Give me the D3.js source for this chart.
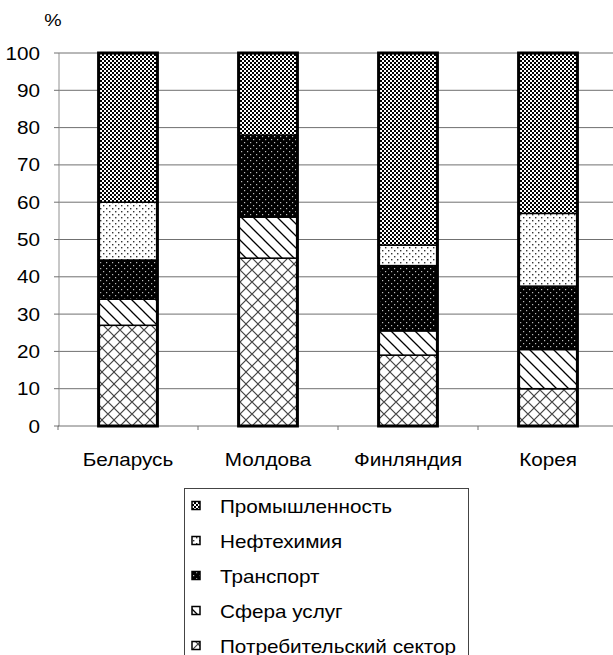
<!DOCTYPE html>
<html>
<head>
<meta charset="utf-8">
<script src="https://d3js.org/d3.v7.min.js"></script>
<style>
  body { margin: 0; background: #fff; }
  svg text { font-family: "Liberation Sans", Arial, sans-serif; fill: #000; }
</style>
</head>
<body>
<script>
// categories and series (percent shares, bottom to top)
var countries = ["Беларусь", "Молдова", "Финляндия", "Корея"];
var sectors = ["Потребительский сектор", "Сфера услуг", "Транспорт", "Нефтехимия", "Промышленность"];
var consumer = [27, 45, 19, 10];
var services = [7, 11, 6.5, 10.5];
var transport = [10.5, 22, 17.5, 17];
var petrochem = [15.5, 0, 5.5, 19.5];
var industry = [40, 22, 51.5, 43];
var yTicks = [0, 10, 20, 30, 40, 50, 60, 70, 80, 90, 100];

var seriesVals = [consumer, services, transport, petrochem, industry];
var patIds = ["pConsumer", "pServices", "pTransport", "pPetro", "pIndustry"];

var W = 613, H = 655, sx = 1.15;
var svg = d3.select("body").append("svg").attr("width", W).attr("height", H);

// fill patterns
var defs = svg.append("defs");
function pat(id, w, h) {
  return defs.append("pattern").attr("id", id).attr("patternUnits", "userSpaceOnUse")
    .attr("width", w).attr("height", h);
}
var p = pat("pIndustry", 4, 4);
p.append("rect").attr("width", 4).attr("height", 4).attr("fill", "#fff");
p.append("rect").attr("width", 2).attr("height", 2).attr("fill", "#000");
p.append("rect").attr("x", 2).attr("y", 2).attr("width", 2).attr("height", 2).attr("fill", "#000");

p = pat("pPetro", 6, 6);
p.append("rect").attr("width", 6).attr("height", 6).attr("fill", "#fff");
p.append("rect").attr("x", 1).attr("y", 1).attr("width", 1.4).attr("height", 1.4).attr("fill", "#333");
p.append("rect").attr("x", 4).attr("y", 4).attr("width", 1.4).attr("height", 1.4).attr("fill", "#333");

p = pat("pTransport", 6, 6);
p.append("rect").attr("width", 6).attr("height", 6).attr("fill", "#000");
p.append("rect").attr("x", 1).attr("y", 1).attr("width", 1.2).attr("height", 1.2).attr("fill", "#bbb");
p.append("rect").attr("x", 4).attr("y", 4).attr("width", 1.2).attr("height", 1.2).attr("fill", "#bbb");

p = pat("pServices", 12, 12);
p.append("rect").attr("width", 12).attr("height", 12).attr("fill", "#fff");
p.append("path").attr("d", "M-3,-3L15,15M-3,9L3,15M9,-3L15,3").attr("stroke", "#000").attr("stroke-width", 1.3);

p = pat("pConsumer", 12, 12);
p.append("rect").attr("width", 12).attr("height", 12).attr("fill", "#fff");
p.append("path").attr("d", "M0,6L6,0L12,6L6,12Z").attr("fill", "none").attr("stroke", "#444").attr("stroke-width", 1.1);

// scales
var x = d3.scaleBand().domain(countries).range([58, 618]).paddingInner(0.58).paddingOuter(0.29);
var y = d3.scaleLinear().domain([0, 100]).range([426, 53]);

// gridlines
svg.append("g").selectAll("line").data(yTicks.slice(1)).join("line")
  .attr("x1", 59).attr("x2", W).attr("y1", d => y(d)).attr("y2", d => y(d))
  .attr("stroke", "#707070").attr("stroke-width", 1);

// y axis
svg.append("line").attr("x1", 59).attr("x2", 59).attr("y1", y(100)).attr("y2", y(0))
  .attr("stroke", "#909090");
svg.append("g").selectAll("line").data(yTicks).join("line")
  .attr("x1", 54).attr("x2", 59).attr("y1", d => y(d)).attr("y2", d => y(d))
  .attr("stroke", "#707070");
svg.append("g").selectAll("g").data(yTicks).join("g")
  .attr("transform", d => "translate(40," + (y(d) + 6.5) + ") scale(" + sx + ",1)")
  .append("text").attr("text-anchor", "end").style("font-size", "18px").text(d => d);

svg.append("g").attr("transform", "translate(53,26) scale(" + sx + ",1)")
  .append("text").attr("text-anchor", "middle").style("font-size", "17px").text("%");

// x axis
svg.append("line").attr("x1", 58).attr("x2", W).attr("y1", y(0)).attr("y2", y(0)).attr("stroke", "#707070");
svg.append("g").selectAll("line").data(d3.range(5)).join("line")
  .attr("x1", i => 58 + i * x.step()).attr("x2", i => 58 + i * x.step())
  .attr("y1", y(0)).attr("y2", y(0) + 4).attr("stroke", "#707070");
svg.append("g").selectAll("g").data(countries).join("g")
  .attr("transform", d => "translate(" + (x(d) + x.bandwidth() / 2) + ",466) scale(" + sx + ",1)")
  .append("text").attr("text-anchor", "middle").style("font-size", "18px").text(d => d);

// stacked bars
var stackData = countries.map(function (c, i) {
  var o = { country: c };
  sectors.forEach(function (s, j) { o[s] = seriesVals[j][i]; });
  return o;
});
var stacked = d3.stack().keys(sectors)(stackData);
svg.append("g").selectAll("g").data(stacked).join("g")
  .attr("fill", (d, j) => "url(#" + patIds[j] + ")")
  .selectAll("rect").data(d => d.filter(v => v[1] - v[0] > 0)).join("rect")
  .attr("x", d => x(d.data.country))
  .attr("width", x.bandwidth())
  .attr("y", d => y(d[1]))
  .attr("height", d => y(d[0]) - y(d[1]))
  .attr("stroke", "#000").attr("stroke-width", 1.5);
// outer bar outline
svg.append("g").selectAll("rect").data(countries).join("rect")
  .attr("x", d => x(d)).attr("width", x.bandwidth())
  .attr("y", y(100)).attr("height", y(0) - y(100))
  .attr("fill", "none").attr("stroke", "#000").attr("stroke-width", 3);

// legend
svg.append("rect").attr("x", 184.5).attr("y", 488.5).attr("width", 284).attr("height", 180)
  .attr("fill", "#fff").attr("stroke", "#444");
var legendOrder = sectors.slice().reverse();
var lg = svg.append("g").selectAll("g").data(legendOrder).join("g")
  .attr("transform", (d, i) => "translate(0," + (i * 35) + ")");
lg.append("rect").attr("x", 192).attr("y", 501.5).attr("width", 8).attr("height", 8)
  .attr("fill", d => "url(#" + patIds[sectors.indexOf(d)] + ")").attr("stroke", "#000").attr("stroke-width", 1.5);
lg.append("g").attr("transform", "translate(220,513) scale(" + sx + ",1)")
  .append("text").style("font-size", "18px").text(d => d);
</script>
</body>
</html>
